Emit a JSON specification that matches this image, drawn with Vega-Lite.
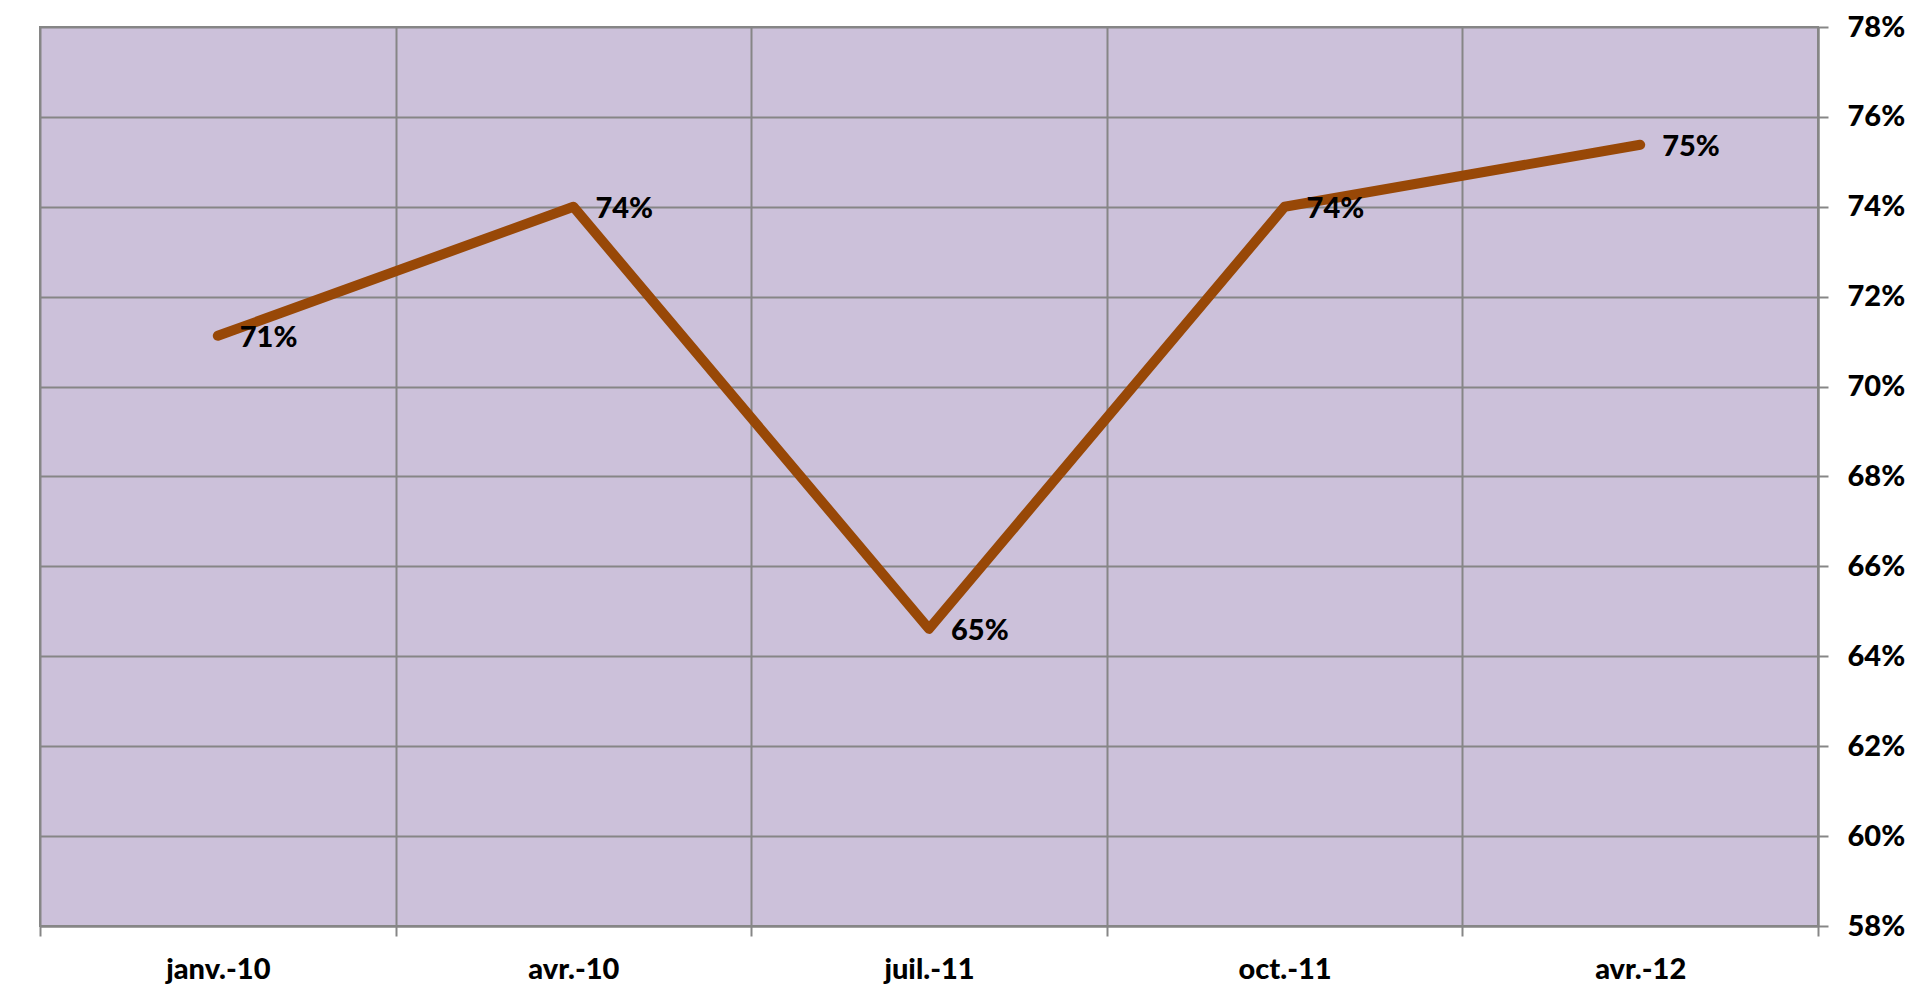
{
  "$schema": "https://vega.github.io/schema/vega-lite/v6.json",
  "width": 1778,
  "height": 899,
  "autosize": {"type": "none"},
  "padding": {"left": 40, "top": 27, "right": 90, "bottom": 70},
  "background": "#FFFFFF",
  "config": {
    "font": "Lato",
    "view": {"fill": "#CCC1DA", "stroke": "#868686", "strokeWidth": 2}
  },
  "data": {
    "values": [
      {"periode": "janv.-10", "taux": 0.7113},
      {"periode": "avr.-10", "taux": 0.740},
      {"periode": "juil.-11", "taux": 0.6461},
      {"periode": "oct.-11", "taux": 0.740},
      {"periode": "avr.-12", "taux": 0.7538}
    ]
  },
  "encoding": {
    "x": {
      "field": "periode",
      "type": "nominal",
      "sort": null,
      "scale": {"type": "band", "paddingInner": 0, "paddingOuter": 0},
      "axis": {
        "title": null,
        "orient": "bottom",
        "labelAngle": 0,
        "tickBand": "extent",
        "grid": true,
        "gridColor": "#868686",
        "gridWidth": 2,
        "domainColor": "#868686",
        "domainWidth": 2,
        "tickColor": "#868686",
        "tickWidth": 2,
        "tickSize": 10,
        "labelFont": "Lato",
        "labelFontSize": 29,
        "labelFontWeight": 900,
        "labelColor": "#000000",
        "labelPadding": 19
      }
    },
    "y": {
      "field": "taux",
      "type": "quantitative",
      "scale": {"domain": [0.58, 0.78], "zero": false, "nice": false},
      "axis": {
        "title": null,
        "orient": "right",
        "values": [0.58, 0.60, 0.62, 0.64, 0.66, 0.68, 0.70, 0.72, 0.74, 0.76, 0.78],
        "format": ".0%",
        "grid": true,
        "gridColor": "#868686",
        "gridWidth": 2,
        "domainColor": "#868686",
        "domainWidth": 2,
        "tickColor": "#868686",
        "tickWidth": 2,
        "tickSize": 10,
        "labelFont": "Lato",
        "labelFontSize": 29,
        "labelFontWeight": 900,
        "labelColor": "#000000",
        "labelPadding": 19,
        "labelBaseline": "middle"
      }
    }
  },
  "layer": [
    {
      "mark": {"type": "line", "color": "#984807", "strokeWidth": 10, "strokeCap": "round", "strokeJoin": "round"}
    },
    {
      "mark": {"type": "text", "align": "left", "baseline": "middle", "dx": 22, "dy": 2, "fontSize": 29, "fontWeight": 900, "font": "Lato", "color": "#000000"},
      "encoding": {
        "text": {"field": "taux", "type": "quantitative", "format": ".0%"}
      }
    }
  ]
}
